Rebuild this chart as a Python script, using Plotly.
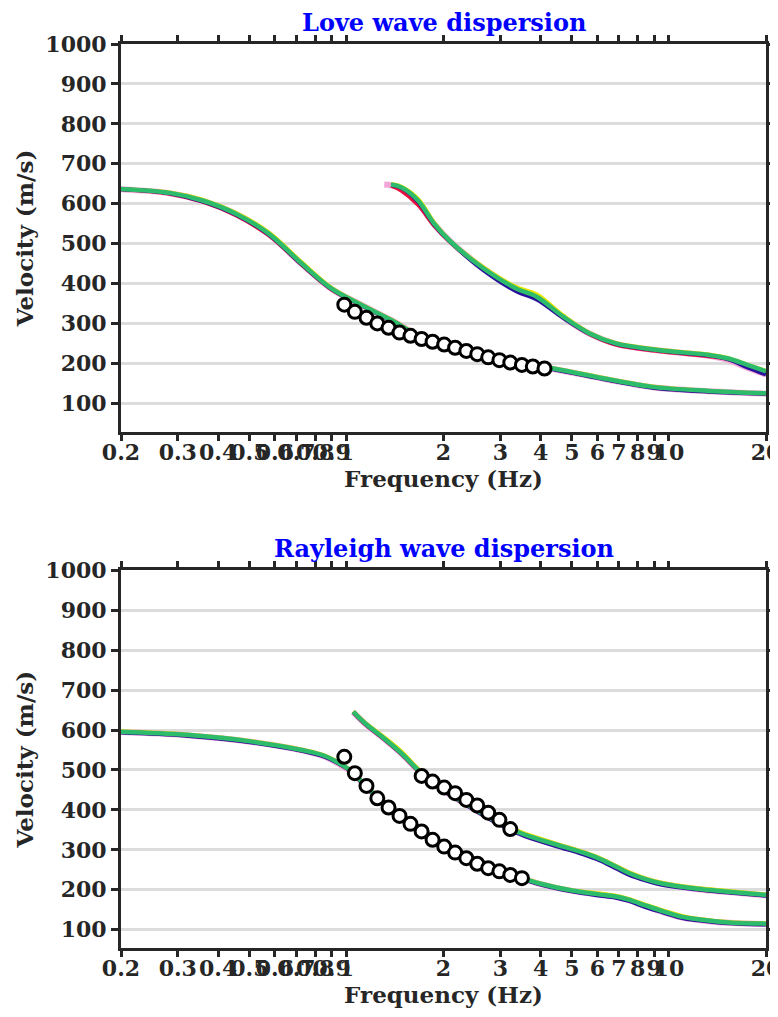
import plotly.graph_objects as go

# ---------------- data ----------------
# Love wave, fundamental mode
love_f0_freq = [0.2, 0.283, 0.358, 0.454, 0.574, 0.727, 0.90, 1.09, 1.38, 1.7, 2.2, 2.8, 3.5, 4.38, 6.5, 8.9, 13.3, 20]
love_f0_pink = [636, 626, 607, 574, 524, 449, 386, 350, 308, 267, 238, 215, 198, 186, 159, 140, 130, 124]
love_f0_yellow = [637, 628, 610, 577, 528, 453, 389, 351, 309, 268, 239, 216, 199, 188, 161, 142, 131, 125]
love_f0_red = [636, 625, 605, 571, 521, 447, 385, 349, 307, 266, 237, 214, 197, 186, 159, 140, 130, 124]
love_f0_navy = [636, 626, 606, 573, 523, 448, 386, 349, 307, 266, 237, 214, 197, 185, 158, 139, 129, 124]
love_f0_green = [637, 627, 608, 575, 525, 450, 387, 350, 308, 267, 238, 215, 198, 187, 160, 141, 131, 125]

# Love wave, first higher mode
love_f1_freq = [1.376, 1.478, 1.668, 1.87, 2.11, 2.67, 3.37, 3.89, 4.7, 5.68, 6.84, 9.34, 13.3, 15.3, 17.5, 20]
love_f1_pink_freq = [1.31, 1.376, 1.478, 1.668, 1.87, 2.11, 2.67, 3.37, 3.89, 4.7, 5.68, 6.84, 9.34, 13.3, 15.3, 17.5, 20]
love_f1_pink = [648, 646, 638, 604, 549, 504, 437, 386, 366, 316, 274, 249, 232, 219, 208, 189, 172]
love_f1_yellow = [649, 643, 612, 553, 505, 440, 391, 373, 320, 276, 251, 234, 222, 213, 197, 181]
love_f1_red = [645, 633, 597, 545, 502, 435, 384, 363, 315, 273, 247, 230, 218, 210, 193, 176]
love_f1_navy = [647, 640, 605, 548, 503, 432, 380, 360, 314, 274, 249, 232, 220, 210, 190, 172]
love_f1_green = [648, 641, 608, 550, 504, 437, 387, 367, 317, 275, 250, 233, 221, 212, 196, 180]

# Love wave observed picks
love_obs_freq = [0.985, 1.062, 1.154, 1.247, 1.351, 1.461, 1.580, 1.711, 1.850, 2.010,
                 2.173, 2.354, 2.545, 2.752, 2.981, 3.222, 3.501, 3.785, 4.113]
love_obs_vel = [347, 329, 314, 300, 289, 277, 269, 261, 254, 247,
                239, 231, 223, 215, 208, 202, 196, 192, 187]

# Rayleigh wave, fundamental mode
ray_f0_freq = [0.2, 0.319, 0.51, 0.727, 0.858, 0.99, 1.04, 1.154, 1.351, 1.58, 1.85, 2.173, 2.545,
               2.981, 3.5, 4.0, 5.0, 6.0, 6.84, 7.5, 8.5, 9.6, 11.0, 12.1, 15.3, 20.0]
ray_f0_pink = [595, 587, 570, 549, 533, 506, 494, 457, 404, 363, 324, 291, 263, 244, 228, 214, 197, 188, 182, 174, 158, 144, 130, 125, 117, 114]
ray_f0_yellow = [597, 589, 572, 551, 536, 509, 497, 459, 406, 365, 326, 293, 265, 246, 230, 216, 199, 191, 185, 177, 162, 148, 134, 128, 119, 116]
ray_f0_red = [595, 587, 570, 549, 534, 507, 495, 457, 404, 363, 324, 291, 263, 244, 228, 214, 197, 188, 182, 174, 159, 145, 131, 126, 117, 114]
ray_f0_navy = [594, 586, 569, 548, 533, 507, 495, 457, 404, 363, 324, 291, 262, 243, 227, 213, 196, 186, 180, 172, 156, 143, 129, 124, 116, 113]
ray_f0_green = [596, 588, 571, 550, 535, 508, 496, 458, 405, 364, 325, 292, 264, 245, 229, 215, 198, 189, 183, 175, 160, 146, 132, 127, 118, 115]

# Rayleigh wave, first higher mode
ray_f1_freq = [1.05, 1.15, 1.31, 1.5, 1.668, 2.0, 2.4, 2.9, 3.37, 3.72, 4.7, 5.18, 5.96, 6.84, 7.5, 8.5, 9.6, 12.1, 15.3, 20]
ray_f1_pink = [645, 614, 578, 537, 499, 449, 409, 371, 345, 332, 307, 297, 280, 257, 241, 225, 214, 202, 194, 186]
ray_f1_yellow = [647, 617, 582, 542, 503, 452, 412, 375, 349, 336, 310, 300, 283, 260, 244, 228, 217, 205, 197, 188]
ray_f1_red = [645, 613, 577, 536, 498, 449, 409, 371, 345, 332, 307, 297, 280, 257, 241, 225, 214, 202, 194, 186]
ray_f1_navy = [645, 614, 578, 537, 499, 448, 408, 369, 343, 329, 304, 294, 277, 254, 238, 223, 212, 201, 193, 185]
ray_f1_green = [646, 615, 579, 538, 500, 450, 410, 372, 346, 333, 308, 298, 281, 258, 242, 226, 215, 203, 195, 187]

# Rayleigh observed picks
ray_obs0_freq = [0.985, 1.062, 1.154, 1.247, 1.351, 1.461, 1.580, 1.711, 1.850,
                 2.010, 2.173, 2.354, 2.545, 2.752, 2.981, 3.222, 3.501]
ray_obs0_vel = [533, 492, 460, 429, 406, 385, 365, 346, 325, 308, 293, 279, 265, 254, 246, 237, 229]
ray_obs1_freq = [1.711, 1.850, 2.010, 2.173, 2.354, 2.545, 2.752, 2.981, 3.222]
ray_obs1_vel = [485, 471, 456, 442, 425, 411, 393, 375, 352]

x_tickvals = [0.2, 0.3, 0.4, 0.5, 0.6, 0.7, 0.8, 0.9, 1, 2, 3, 4, 5, 6, 7, 8, 9, 10, 20]
x_ticktext = ["0.2", "0.3", "0.4", "0.5", "0.6", "0.7", "0.8", "0.9", "1", "2", "3", "4",
              "5", "6", "7", "8", "9", "10", "20"]
y_tickvals = [100, 200, 300, 400, 500, 600, 700, 800, 900, 1000]

titles = ["Love wave dispersion", "Rayleigh wave dispersion"]

# ---------------- styling ----------------
COL_PINK = "#f2a7d8"
COL_YELLOW = "#e6e600"
COL_RED = "#e8103c"
COL_NAVY = "#2a0f9c"
COL_GREEN = "#2dbb6c"
AXC = "#262626"
FONT = "DejaVu Serif"

fig = go.Figure()


def add_ensemble(fx, fx_pink, pink, yellow, red, navy, green, xa, ya):
    for f, v, c, w in [(fx_pink, pink, COL_PINK, 6),
                       (fx, yellow, COL_YELLOW, 4),
                       (fx, red, COL_RED, 4),
                       (fx, navy, COL_NAVY, 4),
                       (fx, green, COL_GREEN, 4.5)]:
        fig.add_trace(go.Scatter(x=f, y=v, mode="lines", xaxis=xa, yaxis=ya,
                                 line=dict(color=c, width=w, shape="spline"),
                                 showlegend=False, hoverinfo="skip"))


def add_obs(f, v, xa, ya):
    fig.add_trace(go.Scatter(x=f, y=v, mode="markers", xaxis=xa, yaxis=ya,
                             marker=dict(size=13, color="white",
                                         line=dict(color="black", width=3)),
                             showlegend=False))


add_ensemble(love_f0_freq, love_f0_freq, love_f0_pink, love_f0_yellow, love_f0_red,
             love_f0_navy, love_f0_green, "x", "y")
add_ensemble(love_f1_freq, love_f1_pink_freq, love_f1_pink, love_f1_yellow, love_f1_red,
             love_f1_navy, love_f1_green, "x", "y")
add_obs(love_obs_freq, love_obs_vel, "x", "y")

add_ensemble(ray_f0_freq, ray_f0_freq, ray_f0_pink, ray_f0_yellow, ray_f0_red,
             ray_f0_navy, ray_f0_green, "x2", "y2")
add_ensemble(ray_f1_freq, ray_f1_freq, ray_f1_pink, ray_f1_yellow, ray_f1_red,
             ray_f1_navy, ray_f1_green, "x2", "y2")
add_obs(ray_obs0_freq, ray_obs0_vel, "x2", "y2")
add_obs(ray_obs1_freq, ray_obs1_vel, "x2", "y2")

tickfont = dict(family=FONT, size=22, color=AXC, weight="bold")
titlefont = dict(family=FONT, size=23, color=AXC, weight="bold")


def xaxis(anchor):
    return dict(type="log", range=[-0.69897, 1.30103], tickmode="array",
                tickvals=x_tickvals, ticktext=x_ticktext, ticks="outside",
                ticklen=6, tickwidth=2.5, tickcolor=AXC, showline=True,
                linecolor=AXC, linewidth=3, mirror="ticks", showgrid=False,
                zeroline=False, tickfont=tickfont, anchor=anchor, domain=[0, 1],
                tickangle=0, automargin=False, ticklabelstandoff=-7,
                ticklabeloverflow="allow",
                title=dict(text="Frequency (Hz)", font=titlefont, standoff=2))


def yaxis(anchor, domain, rng):
    return dict(range=rng, domain=domain, tickmode="array", tickvals=y_tickvals,
                ticks="outside", ticklen=7, tickwidth=2.5, tickcolor=AXC,
                showline=True, linecolor=AXC, linewidth=3, mirror="ticks",
                showgrid=True, gridcolor="#dcdcdc", gridwidth=3, zeroline=False,
                tickfont=tickfont, anchor=anchor, automargin=False,
                title=dict(text="Velocity (m/s)", font=titlefont, standoff=6))


# The page body adds an 8 px offset, so the figure is 8 px smaller and margins shifted
fig.update_layout(
    width=770, height=1009,
    margin=dict(l=113, r=12, t=36, b=69, autoexpand=False),
    paper_bgcolor="white", plot_bgcolor="white",
    xaxis=xaxis("y"),
    yaxis=yaxis("x", [0.5708, 1.0], [28, 1000]),
    xaxis2=xaxis("y2"),
    yaxis2=yaxis("x2", [0.0, 0.4177], [54, 1000]),
    showlegend=False,
    annotations=[
        dict(text=titles[0], x=0.5, xref="paper", y=1.0, yref="paper",
             yshift=22, showarrow=False, yanchor="middle",
             font=dict(family=FONT, size=24, color="#0000ff", weight="bold")),
        dict(text=titles[1], x=0.5, xref="paper", y=0.4177, yref="paper",
             yshift=22, showarrow=False, yanchor="middle",
             font=dict(family=FONT, size=24, color="#0000ff", weight="bold")),
    ],
)

fig.write_html("out.html")
